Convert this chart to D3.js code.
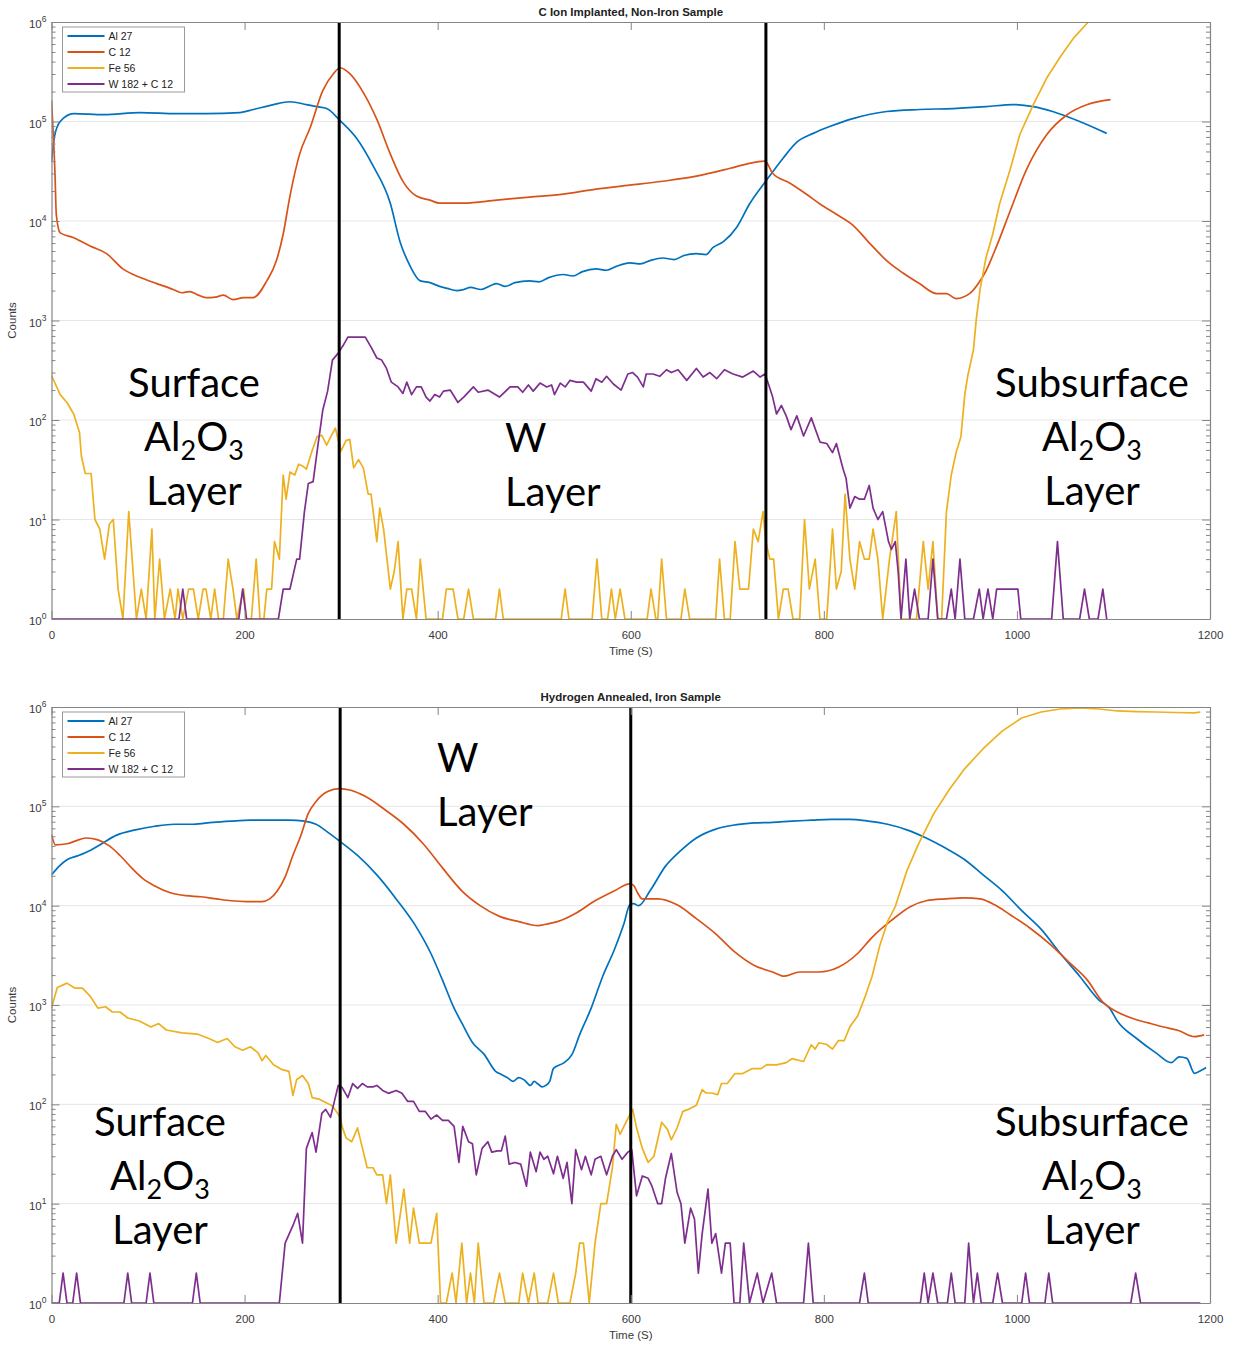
<!DOCTYPE html>
<html><head><meta charset="utf-8">
<script src="https://cdn.jsdelivr.net/npm/d3@7"></script>
<style>body{margin:0;background:#fff}</style>
</head><body>
<svg id="chart" width="1234" height="1346"></svg>
<script>
// ---------- DATA ----------
const seriesNames = ["Al 27", "C 12", "Fe 56", "W 182 + C 12"];
const seriesColors = ["#0072BD", "#D95319", "#EDB120", "#7E2F8E"];
const xTicks = [0, 200, 400, 600, 800, 1000, 1200];
const yTicks = [1, 10, 100, 1000, 10000, 100000, 1000000];
const yTickExp = ["0", "1", "2", "3", "4", "5", "6"];
const xLabel = "Time (S)";
const yLabel = "Counts";

const topTitle = "C Ion Implanted, Non-Iron Sample";
const botTitle = "Hydrogen Annealed, Iron Sample";

// [time (s), counts]
const topAl27 = [[0,40000],[3,70000],[9,100000],[23,120000],[54,117000],[92,123000],[130,120000],[160,120000],[195,123000],[209,132000],[230,148000],[247,158000],[264,148000],[275,141000],[285,135000],[299,102000],[316,68000],[333,36000],[351,15000],[361,6200],[371,3600],[382,2500],[392,2400],[402,2200],[410,2100],[420,2000],[427,2050],[434,2150],[445,2050],[455,2250],[461,2350],[470,2200],[480,2400],[495,2500],[505,2450],[515,2700],[530,2900],[540,2800],[550,3100],[564,3300],[575,3200],[585,3500],[599,3800],[610,3700],[620,4000],[633,4250],[645,4100],[655,4500],[668,4700],[678,4600],[685,5400],[696,6200],[710,8700],[723,14800],[741,26000],[758,43000],[772,62000],[789,76000],[806,89000],[830,107000],[865,126000],[899,132000],[934,135000],[968,141000],[996,148000],[1017,141000],[1037,126000],[1065,100000],[1093,76000]];
const topC12 = [[0,162000],[3.6,30000],[5,11500],[9,7600],[23,6800],[40,5600],[57,4700],[74,3300],[92,2700],[109,2350],[126,2050],[135,1900],[143,1950],[152,1800],[160,1700],[170,1720],[178,1800],[188,1620],[199,1700],[209,1700],[223,2500],[233,4000],[240,7400],[247,17800],[257,47000],[268,87000],[281,204000],[292,302000],[299,347000],[309,302000],[323,195000],[337,105000],[351,47000],[364,25000],[378,17800],[392,16200],[402,15100],[427,15100],[461,16200],[495,17400],[530,18600],[564,20900],[599,22900],[633,25100],[668,28200],[703,33900],[723,38000],[739,40000],[747,30200],[765,24000],[782,18600],[796,14800],[813,11700],[830,9100],[848,5900],[865,4000],[882,3000],[899,2350],[917,1860],[927,1860],[937,1660],[951,1860],[960,2350],[968,3160],[979,5600],[993,12600],[1010,33000],[1031,74000],[1052,117000],[1073,148000],[1097,166000]];
const topFe56 = [[0,280],[4,230],[9,180],[16,150],[23,115],[29,75],[31,43],[35,29],[41,29],[45,10],[50,8],[55,4],[60,9],[64,10],[69,2],[74,1],[80,12],[88,1],[93,2],[98,1],[104,8],[107,1],[112,4],[117,1],[123,2],[128,1],[131,2],[136,1],[142,2],[147,2],[152,1],[157,2],[160,2],[165,1],[169,2],[173,1],[178,1],[183,4],[188,2],[192,1],[199,2],[202,1],[207,1],[212,4],[216,1],[220,1],[223,2],[228,2],[231,6],[236,4],[240,28],[243,16],[247,30],[252,28],[256,36],[261,34],[264,32],[269,46],[275,68],[280,70],[285,56],[290,70],[294,83],[297,63],[300,49],[305,62],[309,64],[313,33],[318,40],[323,33],[328,18],[331,18],[337,6],[340,13],[344,8],[351,2],[355,3],[359,6],[364,1],[368,2],[373,2],[378,1],[382,4],[388,1],[405,1],[409,2],[416,2],[421,1],[427,1],[432,2],[437,1],[460,1],[464,2],[468,1],[528,1],[532,2],[536,1],[560,1],[565,4],[570,1],[576,1],[580,2],[584,1],[589,2],[594,1],[617,1],[621,2],[626,1],[628,1],[632,4],[637,1],[652,1],[656,2],[661,1],[688,1],[692,4],[697,1],[703,1],[708,6],[713,2],[718,2],[722,2],[727,8],[732,6],[737,12],[740,6],[744,4],[748,4],[753,1],[758,2],[763,2],[768,1],[775,1],[780,10],[785,2],[791,4],[796,1],[803,1],[809,8],[813,2],[818,3],[822,18],[827,4],[832,2],[837,6],[842,4],[847,4],[851,8],[856,4],[861,1],[868,4],[875,12],[880,1],[892,1],[896,1],[903,6],[908,2],[913,6],[918,1],[922,1],[927,12],[932,28],[937,47],[942,68],[946,180],[949,275],[955,510],[958,1050],[962,2100],[968,4300],[975,7400],[982,14800],[993,33000],[1003,74000],[1017,148000],[1031,275000],[1045,447000],[1058,676000],[1072,955000],[1085,1300000],[1095,1550000]];
const topW182 = [[0,1],[132,1],[136,2],[140,1],[194,1],[198,2],[202,1],[235,1],[240,2],[247,2],[254,4],[257,4],[262,12],[266,23],[271,24],[276,56],[281,126],[286,195],[291,400],[297,470],[302,560],[307,680],[319,680],[325,680],[331,540],[337,420],[342,400],[347,330],[352,240],[359,215],[364,185],[368,240],[373,180],[378,215],[383,215],[388,170],[392,155],[397,180],[402,170],[406,195],[413,200],[421,150],[427,170],[437,215],[442,190],[452,200],[464,170],[475,215],[483,215],[488,190],[494,225],[499,195],[506,235],[513,215],[518,225],[521,180],[527,235],[532,215],[537,250],[544,240],[551,240],[559,195],[564,260],[570,240],[575,275],[582,230],[590,200],[597,290],[602,300],[607,270],[613,215],[616,290],[623,290],[630,275],[637,320],[642,300],[649,320],[658,250],[668,330],[675,270],[682,300],[689,260],[697,320],[706,290],[716,270],[727,310],[734,270],[739,290],[742,240],[747,170],[751,115],[756,140],[761,110],[766,80],[772,110],[779,69],[787,105],[796,60],[803,58],[809,47],[813,58],[820,32],[823,26],[827,13],[832,17],[837,16],[842,16],[847,22],[851,13],[856,10],[861,12],[867,6],[870,5],[874,6],[877,3],[880,1],[885,4],[889,1],[894,2],[899,1],[908,1],[913,4],[918,1],[927,1],[932,2],[936,1],[941,4],[946,1],[955,1],[961,2],[965,1],[970,2],[975,1],[979,2],[1001,2],[1004,1],[1036,1],[1042,6],[1048,1],[1065,1],[1070,2],[1075,1],[1084,1],[1089,2],[1093,1]];

const botAl27 = [[0,20400],[8,25000],[16,29000],[28,32000],[40,36000],[52,42000],[67,51000],[87,58000],[107,63000],[127,66000],[147,66000],[167,69000],[186,71000],[206,72500],[226,72500],[246,72500],[262,71000],[274,66000],[286,55000],[298,45000],[317,32000],[337,20400],[357,11700],[377,6300],[393,3300],[405,1780],[417,930],[425,660],[436,420],[448,320],[460,215],[466,200],[472,186],[478,170],[484,186],[490,175],[496,155],[500,170],[504,160],[508,150],[512,155],[516,170],[520,230],[531,263],[539,316],[547,500],[559,930],[571,1950],[583,3600],[593,6600],[599,10200],[603,10500],[608,10000],[620,14100],[636,25000],[652,36000],[668,48000],[688,59000],[708,65000],[728,68000],[747,69000],[767,71000],[787,72500],[807,74000],[827,74000],[846,71000],[866,66000],[886,58000],[906,48000],[926,38000],[946,29000],[965,20400],[985,14100],[1005,8900],[1025,5800],[1045,3300],[1065,1950],[1085,1120],[1096,930],[1104,690],[1124,460],[1144,330],[1160,263],[1168,300],[1176,290],[1184,205],[1191,220],[1196,235]];
const botC12 = [[0,52000],[4,41000],[16,42000],[28,46000],[36,48000],[48,46000],[60,40000],[71,32000],[83,24000],[95,18600],[107,15800],[123,13500],[139,12600],[155,12300],[171,11700],[186,11200],[202,11000],[218,11000],[226,11700],[234,14100],[242,19500],[250,32000],[258,50000],[266,85000],[274,112000],[286,141000],[298,151000],[310,145000],[325,126000],[345,93000],[365,66000],[385,42000],[405,24000],[425,14100],[444,10000],[464,7800],[484,6900],[504,6300],[512,6500],[524,6900],[544,8500],[563,11200],[583,14100],[599,16600],[603,16000],[607,13500],[612,11700],[628,11700],[648,10200],[668,7400],[688,5200],[708,3400],[728,2500],[747,2150],[759,1950],[775,2150],[795,2150],[815,2400],[835,3300],[850,4800],[870,7100],[890,9800],[906,11200],[926,11700],[946,12000],[962,11700],[977,10200],[993,8100],[1013,6000],[1033,4200],[1053,2750],[1073,1780],[1089,1070],[1104,850],[1124,710],[1136,660],[1152,600],[1168,550],[1184,480],[1194,500]];
const botFe56 = [[0,930],[6,1500],[16,1660],[24,1480],[32,1480],[40,1230],[48,930],[56,960],[63,850],[71,850],[79,740],[91,690],[103,600],[111,650],[119,560],[135,525],[151,510],[163,460],[172,420],[182,460],[190,380],[198,350],[206,380],[214,330],[218,275],[222,310],[230,250],[238,225],[246,215],[250,123],[254,178],[260,195],[266,162],[270,117],[278,112],[286,102],[290,98],[295,85],[299,74],[301,60],[305,46],[311,42],[317,58],[321,40],[327,23],[333,23],[337,19.5],[343,19.5],[347,10],[351,19.5],[357,4],[365,14],[371,4],[375,9],[381,4],[393,4],[399,8],[403,1],[409,1],[415,2],[419,1],[425,4],[430,1],[434,2],[438,1],[442,4],[448,1],[458,1],[464,2],[470,1],[484,1],[488,2],[494,1],[500,2],[504,1],[514,1],[520,2],[525,1],[537,1],[543,2],[547,4],[551,4],[557,1],[563,4],[569,10],[575,10],[581,23],[585,63],[589,50],[595,66],[602,89],[606,58],[612,36],[618,26],[624,30],[632,66],[638,56],[642,44],[648,58],[654,85],[660,89],[668,98],[674,141],[678,130],[684,130],[690,125],[694,162],[700,162],[708,204],[716,204],[726,229],[735,229],[741,251],[751,250],[761,263],[767,288],[779,270],[787,398],[791,360],[795,417],[803,400],[809,360],[815,437],[821,437],[827,603],[835,776],[843,1230],[850,1950],[858,3980],[866,6900],[874,9800],[886,22400],[898,41700],[914,85000],[930,148000],[946,240000],[965,380000],[985,575000],[1005,776000],[1025,891000],[1045,955000],[1065,977000],[1085,955000],[1104,912000],[1124,900000],[1144,891000],[1164,880000],[1184,871000],[1190,890000]];
const botW182 = [[0,1],[8,1],[12,2],[16,1],[22,1],[26,2],[30,1],[75,1],[79,2],[83,1],[98,1],[102,2],[106,1],[146,1],[150,2],[154,1],[236,1],[242,4],[250,6],[255,8],[260,4],[264,36],[270,52],[274,33],[280,81],[284,89],[289,74],[293,107],[297,155],[301,148],[307,117],[312,162],[317,145],[322,162],[327,150],[333,150],[337,155],[343,138],[349,129],[357,138],[363,129],[369,107],[375,107],[381,85],[387,85],[393,71],[399,78],[405,69],[411,69],[417,60],[422,26],[426,60],[432,42],[436,40],[440,19.5],[446,36],[452,42],[456,33],[462,34],[466,34],[470,48],[474,25],[480,26],[486,25],[492,15],[496,33],[502,21],[506,33],[510,28],[514,30],[520,20],[524,30],[530,18],[534,26],[539,10],[543,35],[549,22],[553,30],[559,19.5],[563,28],[569,30],[575,19.5],[581,30],[585,35],[591,28],[597,33],[601,35],[606,12],[612,19],[618,18],[622,15],[628,10],[632,10],[636,18],[642,32],[648,13],[652,10],[656,4],[662,9],[666,7],[670,2],[674,5],[680,14],[684,4],[688,5],[694,2],[698,4],[703,4],[707,1],[713,1],[717,4],[723,1],[731,2],[737,1],[746,2],[751,1],[779,1],[784,4],[789,1],[837,1],[842,2],[846,1],[900,1],[904,2],[908,1],[913,2],[918,1],[928,1],[932,2],[936,1],[946,1],[950,4],[955,1],[959,2],[963,1],[975,1],[980,2],[985,1],[1005,1],[1009,2],[1013,1],[1029,1],[1033,2],[1037,1],[1118,1],[1123,2],[1128,1],[1190,1]];

const topDividers = [298, 740];
const botDividers = [299, 600];

// annotation labels (layout given separately)
const topNotes = [["Surface", "Al₂O₃", "Layer"], ["W", "Layer"], ["Subsurface", "Al₂O₃", "Layer"]];
const botNotes = [["W", "Layer"], ["Surface", "Al₂O₃", "Layer"], ["Subsurface", "Al₂O₃", "Layer"]];

// ---------- LAYOUT ----------
const svg = d3.select("#chart");
const axisFont = "'Liberation Sans', Arial, Helvetica, sans-serif";
const noteFont = "Lato, 'Open Sans', sans-serif";
const axisGray = "#858585";
const textGray = "#3a3a3a";
const seriesCurves = [d3.curveMonotoneX, d3.curveMonotoneX, d3.curveLinear, d3.curveLinear];

function drawPanel(cfg) {
  const g = svg.append("g");
  const x = d3.scaleLinear().domain([0, 1200]).range([cfg.left, cfg.right]);
  const y = d3.scaleLog().domain([1, 1e6]).range([cfg.bottom, cfg.top]);
  const clipId = "clip" + cfg.id;
  svg.append("clipPath").attr("id", clipId).append("rect")
    .attr("x", cfg.left).attr("y", cfg.top)
    .attr("width", cfg.right - cfg.left).attr("height", cfg.bottom - cfg.top);

  // grid (horizontal, decades)
  g.append("g").selectAll("line").data(yTicks.slice(1, -1)).join("line")
    .attr("x1", cfg.left).attr("x2", cfg.right)
    .attr("y1", d => y(d)).attr("y2", d => y(d))
    .attr("stroke", "#e6e6e6").attr("stroke-width", 1);

  // series
  const lines = g.append("g").attr("clip-path", `url(#${clipId})`);
  cfg.series.forEach((s, i) => {
    const line = d3.line().x(d => x(d[0])).y(d => y(d[1])).curve(seriesCurves[i]);
    lines.append("path").datum(s).attr("d", line)
      .attr("fill", "none").attr("stroke", seriesColors[i])
      .attr("stroke-width", 1.7).attr("stroke-linejoin", "round");
  });

  // dividers
  g.append("g").selectAll("line").data(cfg.dividers).join("line")
    .attr("x1", d => x(d)).attr("x2", d => x(d))
    .attr("y1", cfg.top).attr("y2", cfg.bottom)
    .attr("stroke", "#000").attr("stroke-width", 3);

  // axes
  const ax = g.append("g").attr("color", axisGray).attr("font-family", axisFont);
  const xb = ax.append("g").attr("transform", `translate(0,${cfg.bottom})`)
    .call(d3.axisBottom(x).tickValues(xTicks).tickFormat(d3.format("d"))
      .tickSizeInner(-8).tickSizeOuter(0).tickPadding(12));
  xb.selectAll("text").attr("font-size", 11.5).attr("fill", textGray);
  ax.append("g").attr("transform", `translate(0,${cfg.top})`)
    .call(d3.axisTop(x).tickValues(xTicks).tickSizeInner(-8).tickSizeOuter(0).tickFormat(""));
  const minor = [];
  for (let e = 0; e < 6; e++) for (let m = 2; m <= 9; m++) minor.push(m * Math.pow(10, e));
  ax.append("g").attr("transform", `translate(${cfg.left},0)`)
    .call(d3.axisLeft(y).tickValues(yTicks).tickSizeInner(-8).tickSizeOuter(0).tickFormat(""));
  ax.append("g").attr("transform", `translate(${cfg.left},0)`)
    .call(d3.axisLeft(y).tickValues(minor).tickSizeInner(-4).tickSizeOuter(0).tickFormat(""))
    .select(".domain").remove();
  ax.append("g").attr("transform", `translate(${cfg.right},0)`)
    .call(d3.axisRight(y).tickValues(yTicks).tickSizeInner(-8).tickSizeOuter(0).tickFormat(""));
  ax.append("g").attr("transform", `translate(${cfg.right},0)`)
    .call(d3.axisRight(y).tickValues(minor).tickSizeInner(-4).tickSizeOuter(0).tickFormat(""))
    .select(".domain").remove();
  ax.selectAll(".domain").attr("stroke-width", 1.2);

  // y tick labels 10^n
  const yl = g.append("g").attr("font-family", axisFont).attr("fill", textGray);
  yTicks.forEach((v, i) => {
    const t = yl.append("text").attr("x", cfg.left - 5).attr("y", y(v) + 6)
      .attr("text-anchor", "end").attr("font-size", 11.5);
    t.append("tspan").text("10");
    t.append("tspan").attr("dy", -6).attr("font-size", 8.5).text(yTickExp[i]);
  });

  // title and axis labels
  g.append("text").attr("x", (cfg.left + cfg.right) / 2).attr("y", cfg.top - 6)
    .attr("text-anchor", "middle").attr("font-family", axisFont).attr("font-weight", "bold")
    .attr("font-size", 11.5).attr("fill", "#222").text(cfg.title);
  g.append("text").attr("x", (cfg.left + cfg.right) / 2).attr("y", cfg.bottom + 36)
    .attr("text-anchor", "middle").attr("font-family", axisFont)
    .attr("font-size", 11.5).attr("fill", textGray).text(xLabel);
  g.append("text").attr("transform", `translate(16,${(cfg.top + cfg.bottom) / 2}) rotate(-90)`)
    .attr("text-anchor", "middle").attr("font-family", axisFont)
    .attr("font-size", 11.5).attr("fill", textGray).text(yLabel);

  // legend
  const lg = g.append("g").attr("transform", `translate(${cfg.left + 11},${cfg.top + 5})`);
  lg.append("rect").attr("x", 0).attr("y", 0).attr("width", 122).attr("height", 65)
    .attr("fill", "#fff").attr("stroke", "#9a9a9a").attr("stroke-width", 1);
  seriesNames.forEach((n, i) => {
    const yy = 9 + i * 16;
    lg.append("line").attr("x1", 5).attr("x2", 42).attr("y1", yy).attr("y2", yy)
      .attr("stroke", seriesColors[i]).attr("stroke-width", 2);
    lg.append("text").attr("x", 46).attr("y", yy + 3.8).attr("font-family", axisFont)
      .attr("font-size", 10.5).attr("fill", "#222").text(n);
  });

  // annotations
  cfg.notes.forEach((lines, k) => {
    const pos = cfg.notePos[k];
    lines.forEach((txt, j) => {
      const t = g.append("text").attr("x", pos.x).attr("y", pos.y + j * 54)
        .attr("text-anchor", pos.anchor).attr("font-family", noteFont)
        .attr("font-size", 40).attr("fill", "#000");
      if (txt === "Al₂O₃") {
        t.append("tspan").text("Al");
        t.append("tspan").attr("font-size", 27).attr("dy", 9).text("2");
        t.append("tspan").attr("dy", -9).text("O");
        t.append("tspan").attr("font-size", 27).attr("dy", 9).text("3");
      } else {
        t.text(txt);
      }
    });
  });
}

drawPanel({
  id: "top", left: 51.5, right: 1210, top: 22, bottom: 619,
  title: topTitle, series: [topAl27, topC12, topFe56, topW182],
  dividers: topDividers, notes: topNotes,
  notePos: [{x: 194, y: 397, anchor: "middle"}, {x: 505, y: 452, anchor: "start"}, {x: 1092, y: 397, anchor: "middle"}]
});
drawPanel({
  id: "bot", left: 51.5, right: 1210, top: 707, bottom: 1303,
  title: botTitle, series: [botAl27, botC12, botFe56, botW182],
  dividers: botDividers, notes: botNotes,
  notePos: [{x: 437, y: 772, anchor: "start"}, {x: 160, y: 1136, anchor: "middle"}, {x: 1092, y: 1136, anchor: "middle"}]
});
</script>
</body></html>
